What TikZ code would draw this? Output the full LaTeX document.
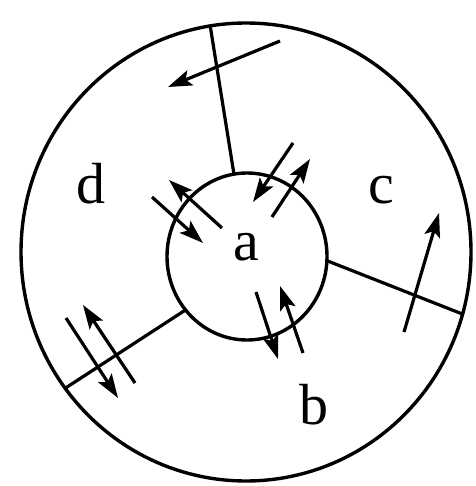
\documentclass[tikz,border=0pt]{standalone}
\usepackage{fontspec}
\setmainfont{Liberation Serif}
\usetikzlibrary{arrows.meta,shapes.geometric}
\tikzset{
  ring/.style={draw, ellipse, inner sep=0pt, outer sep=0pt, line width=3.4pt},
  spoke/.style={line width=3.2pt},
  flux/.style={line width=3.2pt, -{Stealth[length=24pt,width=16pt,inset=5pt]}},
  lbl/.style={anchor=base, inner sep=0pt, font=\fontsize{58}{62}\selectfont}
}
\begin{document}
\begin{tikzpicture}[x=1pt,y=-1pt]
\useasboundingbox (0,0) rectangle (475,486);
\node[ring, minimum width=450pt, minimum height=458pt] (outer) at (246,252) {};
\node[ring, minimum width=160pt, minimum height=167pt] (inner) at (247,256.5) {};
% spokes
\draw[spoke] (inner.99.5) -- (outer.99.3);
\draw[spoke] (inner.-3.9) -- (outer.-16);
\draw[spoke] (inner.221.8) -- (outer.217.2);
% labels
\node[lbl] (la) at (246,260) {a};
\node[lbl] (lb) at (314,424) {b};
\node[lbl] (lc) at (381,204) {c};
\node[lbl] (ld) at (91,203) {d};
% arrow coordinates
\coordinate (a1s) at (280,41);  \coordinate (a1e) at (168,87);
\coordinate (a2s) at (404,332); \coordinate (a2e) at (439,213);
\coordinate (l1s) at (66,318);  \coordinate (l1e) at (118,398);
\coordinate (l2s) at (135,383); \coordinate (l2e) at (83,305);
\coordinate (u1s) at (152,197); \coordinate (u1e) at (203,243);
\coordinate (u2s) at (222,228); \coordinate (u2e) at (169,180);
\coordinate (r1s) at (293,143); \coordinate (r1e) at (253,202);
\coordinate (r2s) at (272,217); \coordinate (r2e) at (310,159);
\coordinate (b1s) at (256,292); \coordinate (b1e) at (278,359);
\coordinate (b2s) at (303,353); \coordinate (b2e) at (280,286);
% arrows
\draw[flux] (a1s) -- (a1e);
\draw[flux] (a2s) -- (a2e);
\draw[flux] (l1s) -- (l1e);
\draw[flux] (l2s) -- (l2e);
\draw[flux] (u1s) -- (u1e);
\draw[flux] (u2s) -- (u2e);
\draw[flux] (r1s) -- (r1e);
\draw[flux] (r2s) -- (r2e);
\draw[flux] (b1s) -- (b1e);
\draw[flux] (b2s) -- (b2e);
\end{tikzpicture}
\end{document}
